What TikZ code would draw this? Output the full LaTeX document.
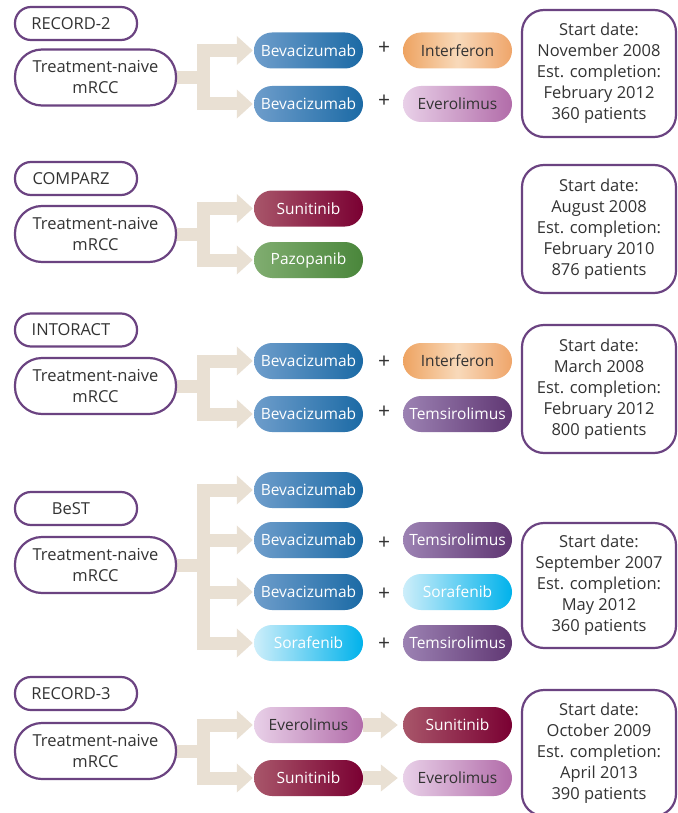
\documentclass[tikz,border=0pt]{standalone}
\usepackage{fontspec}
\setmainfont{Open Sans}
\usetikzlibrary{arrows.meta,backgrounds}
\definecolor{frame}{HTML}{6B4381}
\definecolor{txt}{HTML}{333333}
\definecolor{flowc}{HTML}{E9E0D3}
\definecolor{bevL}{HTML}{6E9DCB}\definecolor{bevR}{HTML}{1B6AA5}
\definecolor{intL}{HTML}{EEA361}\definecolor{intM}{HTML}{F8D9BA}\definecolor{intR}{HTML}{EFA56A}
\definecolor{eveL}{HTML}{E8D0E8}\definecolor{eveR}{HTML}{B26CA9}
\definecolor{sunL}{HTML}{A8566A}\definecolor{sunR}{HTML}{7A0032}
\definecolor{pazL}{HTML}{80AD70}\definecolor{pazR}{HTML}{4A863B}
\definecolor{temL}{HTML}{9C82B3}\definecolor{temR}{HTML}{603773}
\definecolor{sorL}{HTML}{CDEEFA}\definecolor{sorR}{HTML}{00B2EB}
\newcommand\boxfont{\fontsize{16.5}{21}\selectfont}
\newcommand\pillfont{\fontsize{15.5}{18}\selectfont}
\newcommand\plusfont{\fontsize{21}{21}\selectfont}
\tikzset{
  lab/.style={draw=frame, line width=2.2pt, rounded corners=16pt, minimum width=122pt, minimum height=33pt, fill=white, font=\boxfont, text=txt, inner sep=0pt},
  tnbox/.style={draw=frame, line width=2.2pt, rounded corners=27pt, minimum width=161pt, minimum height=56pt, fill=white, font=\boxfont, text=txt, align=center, inner sep=0pt},
  info/.style={draw=frame, line width=2.2pt, rounded corners=22pt, minimum width=154pt, fill=white, font=\boxfont, text=txt, align=center, inner sep=0pt},
  pill/.style={rounded corners=18pt, minimum width=109pt, minimum height=36pt, font=\pillfont, inner sep=0pt},
  bev/.style={pill, left color=bevL, right color=bevR, text=white},
  int/.style={pill, left color=intL, right color=intR, middle color=intM, text=txt},
  eve/.style={pill, left color=eveL, right color=eveR, text=txt},
  sun/.style={pill, left color=sunL, right color=sunR, text=white},
  paz/.style={pill, left color=pazL, right color=pazR, text=white},
  tem/.style={pill, left color=temL, right color=temR, text=white},
  sor/.style={pill, left color=sorL, right color=sorR, text=white},
  plus/.style={font=\plusfont, text=txt, inner sep=0pt},
  flow/.style={draw=flowc, line width=13pt, -{Triangle[width=28pt,length=16pt]}, shorten >=1pt},
  seq/.style={draw=flowc, line width=14pt, -{Triangle[width=26pt,length=17pt]}, shorten >=5pt},
}
\begin{document}
\begin{tikzpicture}[x=1pt,y=-1pt]
\useasboundingbox (0,0) rectangle (677,813);
\begin{scope}[on background layer]
\fill[white] (0,0) rectangle (677,813);
\end{scope}
% ---------- RECORD-2
\node[lab] (l1) at (76,23.5) {\hspace*{-10pt}RECORD-2};
\node[tnbox] (t1) at (95.5,77.5) {Treatment-naive\\mRCC};
\node[bev] (a1) at (308.5,50.5) {Bevacizumab};
\node[bev] (a2) at (308.5,104) {Bevacizumab};
\node[plus] (pa1) at (384,48) {+};
\node[plus] (pa2) at (384,101) {+};
\node[int] (b1) at (457.5,50.5) {Interferon};
\node[eve] (b2) at (457.5,104) {Everolimus};
\node[info, minimum height=127pt] (i1) at (599,73.5) {Start date:\\November 2008\\Est. completion:\\February 2012\\360 patients};
% ---------- COMPARZ
\node[lab] (l2) at (76,178.5) {\hspace*{-10pt}COMPARZ};
\node[tnbox] (t2) at (95.5,234) {Treatment-naive\\mRCC};
\node[sun] (c1) at (308.5,208.5) {Sunitinib};
\node[paz] (c2) at (308.5,260) {Pazopanib};
\node[info, minimum height=128pt] (i2) at (599,229) {Start date:\\August 2008\\Est. completion:\\February 2010\\876 patients};
% ---------- INTORACT
\node[lab] (l3) at (76,330) {\hspace*{-10pt}INTORACT};
\node[tnbox] (t3) at (95.5,386) {Treatment-naive\\mRCC};
\node[bev] (d1) at (308.5,361) {Bevacizumab};
\node[bev] (d2) at (308.5,414) {Bevacizumab};
\node[plus] (pd1) at (384,362) {+};
\node[plus] (pd2) at (384,412) {+};
\node[int] (e1) at (457.5,361) {Interferon};
\node[tem] (e2) at (457.5,414) {Temsirolimus};
\node[info, minimum height=128pt] (i3) at (599,389) {Start date:\\March 2008\\Est. completion:\\February 2012\\800 patients};
% ---------- BeST
\node[lab] (l4) at (76,508.5) {\hspace*{-10pt}BeST};
\node[tnbox] (t4) at (95.5,565) {Treatment-naive\\mRCC};
\node[bev] (f1) at (308.5,490) {Bevacizumab};
\node[bev] (f2) at (308.5,540) {Bevacizumab};
\node[bev] (f3) at (308.5,592) {Bevacizumab};
\node[sor] (f4) at (308.5,643) {Sorafenib};
\node[plus] (pf2) at (384,543) {+};
\node[plus] (pf3) at (384,594) {+};
\node[plus] (pf4) at (384,644) {+};
\node[tem] (g2) at (457.5,540) {Temsirolimus};
\node[sor] (g3) at (457.5,592) {Sorafenib};
\node[tem] (g4) at (457.5,643) {Temsirolimus};
\node[info, minimum height=125pt] (i4) at (599,585.5) {Start date:\\September 2007\\Est. completion:\\May 2012\\360 patients};
% ---------- RECORD-3
\node[lab] (l5) at (76,693.5) {\hspace*{-10pt}RECORD-3};
\node[tnbox] (t5) at (95.5,751) {Treatment-naive\\mRCC};
\node[eve] (h1) at (308.5,725) {Everolimus};
\node[sun] (h2) at (308.5,778) {Sunitinib};
\node[sun] (k1) at (457.5,725) {Sunitinib};
\node[eve] (k2) at (457.5,778) {Everolimus};
\node[info, minimum height=126pt] (i5) at (599,753) {Start date:\\October 2009\\Est. completion:\\April 2013\\390 patients};
% ---------- connectors
\begin{scope}[on background layer]
\foreach \t/\p in {t1/a1,t1/a2,t2/c1,t2/c2,t3/d1,t3/d2,t4/f1,t4/f2,t4/f3,t4/f4,t5/h1,t5/h2}
  \draw[flow] (\t.east) -- ++(26,0) |- (\p.west);
\draw[seq] (h1.east) -- (k1.west);
\draw[seq] (h2.east) -- (k2.west);
\end{scope}
\end{tikzpicture}
\end{document}
